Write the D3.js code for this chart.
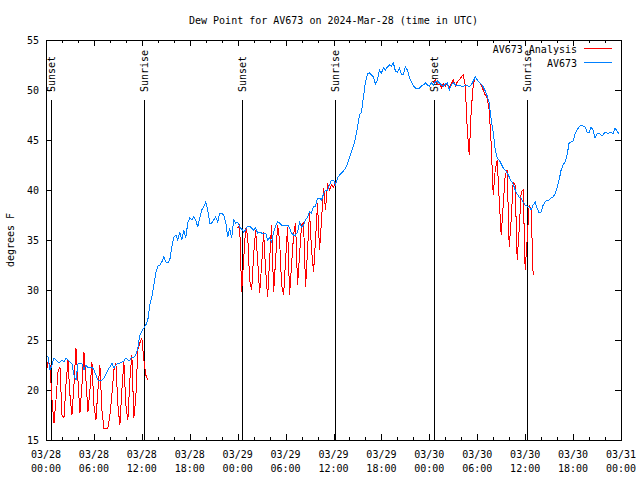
<!DOCTYPE html>
<html>
<head>
<meta charset="utf-8">
<script src="https://cdn.jsdelivr.net/npm/d3@7"></script>
<style>
body { margin: 0; background: #fff; }
svg text { font-family: "DejaVu Sans Mono", monospace; font-size: 10px; fill: #000; }
</style>
</head>
<body>
<div id="chart"></div>
<script>
var width = 640,
    height = 480;

var plotLeft = 46, plotRight = 621, plotTop = 40, plotBottom = 440;

var colors =
  { analysis: "#ff0000",
    obs: "#0080ff",
    frame: "#000000"
  };

var title = "Dew Point for AV673 on 2024-Mar-28 (time in UTC)";
var yLabel = "degrees F";
var seriesNames = ["AV673 Analysis", "AV673"];
var seriesColors = [colors.analysis, colors.obs];

var timeStart = "2024-03-28T00:00",
    timeEnd = "2024-03-31T00:00";
var stepMinutes = 15;

var yTicks = [15, 20, 25, 30, 35, 40, 45, 50, 55];

// observed dew point, every 15 minutes from 03/28 00:00 (one row = one hour)
var av673 = [
  23.5, 23.3, 22.0, 22.5,
  23.2, 23.0, 22.8, 22.8,
  23.0, 22.8, 23.2, 23.0,
  22.8, 22.6, 21.5, 21.0,
  22.6, 22.7, 22.6, 22.0,
  22.5, 22.2, 22.3, 22.3,
  22.0, 21.5, 21.0, 21.0,
  21.0, 21.2, 21.6, 22.0,
  22.3, 22.7, 22.2, 22.5,
  22.7, 22.7, 22.8, 22.9,
  23.2, 23.0, 23.0, 23.3,
  23.3, 23.5, 24.2, 25.5,
  25.9, 26.2, 26.5, 27.0,
  28.5, 29.3, 30.5, 31.7,
  32.4, 32.5, 32.8, 33.3,
  32.8, 32.7, 33.0, 34.3,
  35.3, 35.5, 35.0, 35.8,
  35.0, 36.0, 35.2, 36.7,
  37.2, 37.0, 37.3, 37.0,
  36.3, 37.2, 38.0, 38.3,
  38.8, 38.0, 36.7, 36.7,
  37.0, 37.3, 36.8, 37.7,
  37.7, 37.5, 36.8, 35.3,
  36.2, 35.2, 37.0, 36.7,
  36.8, 36.3, 36.1, 35.8,
  36.0, 36.4, 36.4, 36.2,
  36.0, 36.2, 35.7, 35.8,
  35.7, 35.7, 35.7, 35.0,
  35.2, 34.8, 35.8, 36.4,
  36.8, 36.7, 36.5, 36.5,
  36.5, 36.5, 36.2, 35.7,
  35.5, 35.5, 35.8, 36.8,
  36.3, 36.5, 37.0, 37.3,
  37.8, 37.7, 38.4, 38.4,
  39.2, 39.2, 39.0, 39.6,
  40.0, 40.0, 40.5, 41.0,
  41.0, 40.5, 41.2, 41.5,
  41.7, 41.9, 42.2, 42.6,
  43.2, 43.8, 44.4, 45.2,
  46.2, 47.5, 47.8, 49.3,
  50.8, 51.6, 51.7, 51.5,
  51.3, 50.6, 51.0, 52.0,
  51.7, 52.2, 52.0, 52.3,
  52.5, 52.4, 52.7, 51.9,
  51.8, 52.2, 51.6, 51.6,
  52.3, 52.0, 51.3, 50.8,
  50.4, 50.2, 50.2, 50.2,
  50.4, 50.5, 50.7, 50.5,
  50.4, 50.7, 50.5, 50.8,
  50.9, 50.7, 50.5, 50.4,
  50.6, 50.7, 50.0, 50.5,
  50.7, 50.5, 50.5, 50.5,
  50.4, 50.3, 50.5, 50.5,
  50.3, 50.5, 50.9, 51.3,
  51.0, 50.8, 50.6, 50.3,
  49.9, 49.4, 48.7, 47.0,
  45.8, 44.0, 43.2, 43.0,
  42.6, 42.2, 42.0, 41.7,
  41.3, 40.9, 40.6, 40.0,
  39.6, 39.3, 39.2, 38.8,
  38.5, 38.4, 38.3, 38.0,
  38.5, 38.8, 38.2, 37.7,
  37.8, 38.5, 38.8, 39.0,
  39.0, 39.2, 39.3, 39.6,
  40.2, 41.0, 42.0, 42.5,
  42.8, 43.5, 44.7, 44.8,
  44.9, 45.6, 46.0, 46.3,
  46.5, 46.4, 46.3, 45.8,
  45.7, 46.3, 46.0, 45.2,
  45.6, 45.7, 45.5, 45.5,
  45.8, 45.7, 45.7, 45.8,
  45.6, 46.2, 45.9, 45.6
];

// analysis, only overnight, every 15 minutes from each start time
var analysisStart1 = "2024-03-28T00:00";
var analysis1 = [
  21.5, 22.8, 22.5, 19.0,
  16.7, 19.0, 21.8, 22.3,
  17.5, 17.2, 20.5, 23.0,
  19.5, 17.5, 20.5, 24.2,
  21.0, 17.7, 20.5, 23.8,
  21.0, 17.8, 20.0, 22.8,
  18.5, 17.0, 20.0, 22.5,
  18.0, 16.2, 16.2, 16.2,
  17.5, 19.5, 22.0, 22.7,
  18.5, 16.5, 20.0, 22.8,
  18.5, 17.0, 21.0, 23.5,
  17.2, 19.3, 24.0, 24.7,
  25.2, 23.0, 21.5, 21.0
];

var analysisStart2 = "2024-03-29T00:00";
var analysis2 = [
  36.2, 36.5, 29.8, 33.0,
  36.2, 35.5, 31.0, 30.0,
  33.5, 36.0, 33.0, 29.7,
  32.5, 35.8, 32.0, 29.3,
  33.0, 36.5, 29.8, 33.0,
  36.5, 35.0, 30.5, 29.5,
  33.0, 36.3, 29.5, 32.5,
  35.5, 36.7, 30.5, 33.5,
  36.5, 36.7, 30.3, 34.0,
  37.8, 34.0, 31.8, 35.0,
  38.7, 34.0, 37.0, 40.2,
  38.0, 40.7, 40.0, 40.5,
  40.3, 40.8
];

var analysisStart3 = "2024-03-30T00:30";
var analysis3 = [
  50.7, 51.0, 50.5, 50.6,
  50.2, 50.6, 50.4, 50.7,
  50.2, 50.6, 51.0, 50.4,
  50.8, 51.0, 51.3, 51.5,
  50.5, 46.0, 43.5, 48.0,
  50.5, 51.3, 51.0, 50.8,
  50.5, 50.0, 49.5, 49.2,
  48.0, 44.5, 39.5, 42.0,
  43.0, 39.0, 35.5, 38.5,
  41.5, 42.0, 34.3, 37.0,
  40.8, 40.5, 33.0, 36.0,
  39.8, 40.0, 32.0, 35.0,
  38.5, 38.0, 31.5
];

var sunEvents = [
  { label: "Sunset",  time: "2024-03-28T00:35" },
  { label: "Sunrise", time: "2024-03-28T12:16" },
  { label: "Sunset",  time: "2024-03-29T00:36" },
  { label: "Sunrise", time: "2024-03-29T12:14" },
  { label: "Sunset",  time: "2024-03-30T00:36" },
  { label: "Sunrise", time: "2024-03-30T12:11" }
];

var parse = d3.utcParse("%Y-%m-%dT%H:%M");

var toPoints = function(start, values) {
  var t0 = parse(start);
  return values.map(function(v, i) {
    return { t: d3.utcMinute.offset(t0, i * stepMinutes), v: v };
  });
};

var obsPoints = toPoints(timeStart, av673);
var analysisParts = [
  toPoints(analysisStart1, analysis1),
  toPoints(analysisStart2, analysis2),
  toPoints(analysisStart3, analysis3)
];

var x = d3.scaleUtc()
    .domain([parse(timeStart), parse(timeEnd)])
    .range([plotLeft, plotRight]);

var y = d3.scaleLinear()
    .domain([15, 55])
    .range([plotBottom, plotTop]);

var svg = d3.select("#chart").append("svg")
    .attr("width", width)
    .attr("height", height);

svg.append("rect").attr("width", width).attr("height", height).style("fill", "#fff");

// ticks, inward on all four sides
var majorTimes = x.ticks(d3.utcHour.every(6));
var minorTimes = x.ticks(d3.utcHour.every(2)).filter(function(d) { return d.getUTCHours() % 6 != 0; });

var tickAxis = function(axis, tx, ty) {
  var g = svg.append("g")
      .attr("transform", "translate(" + tx + "," + ty + ")")
      .call(axis);
  g.select(".domain").remove();
  g.selectAll("line").style("stroke", colors.frame).attr("shape-rendering", "crispEdges");
  g.selectAll("text").remove();
  return g;
};

tickAxis(d3.axisBottom(x).tickValues(majorTimes).tickSizeInner(-6).tickSizeOuter(0), 0, plotBottom);
tickAxis(d3.axisBottom(x).tickValues(minorTimes).tickSizeInner(-3).tickSizeOuter(0), 0, plotBottom);
tickAxis(d3.axisTop(x).tickValues(majorTimes).tickSizeInner(-6).tickSizeOuter(0), 0, plotTop);
tickAxis(d3.axisTop(x).tickValues(minorTimes).tickSizeInner(-3).tickSizeOuter(0), 0, plotTop);
tickAxis(d3.axisLeft(y).tickValues(yTicks).tickSizeInner(-6).tickSizeOuter(0), plotLeft, 0);
tickAxis(d3.axisRight(y).tickValues(yTicks).tickSizeInner(-6).tickSizeOuter(0), plotRight, 0);

// tick labels
svg.selectAll("text.ylab")
    .data(yTicks)
  .enter().append("text")
    .attr("class", "ylab")
    .attr("x", plotLeft - 7)
    .attr("y", function(d) { return y(d); })
    .attr("dy", "0.35em")
    .attr("text-anchor", "end")
    .text(function(d) { return d; });

var fmtDay = d3.utcFormat("%m/%d"),
    fmtHour = d3.utcFormat("%H:%M");

var xlab = svg.selectAll("text.xlab")
    .data(majorTimes)
  .enter().append("text")
    .attr("class", "xlab")
    .attr("text-anchor", "middle");
xlab.append("tspan")
    .attr("x", function(d) { return x(d); })
    .attr("y", plotBottom + 18)
    .text(function(d) { return fmtDay(d); });
xlab.append("tspan")
    .attr("x", function(d) { return x(d); })
    .attr("y", plotBottom + 32)
    .text(function(d) { return fmtHour(d); });

// sunrise / sunset markers
var sunX = function(d) { return Math.round(x(parse(d.time))) + 0.5; };
var sun = svg.selectAll("g.sun")
    .data(sunEvents)
  .enter().append("g")
    .attr("class", "sun");
sun.append("line")
    .attr("x1", sunX)
    .attr("x2", sunX)
    .attr("y1", y(49))
    .attr("y2", y(15))
    .style("stroke", colors.frame)
    .attr("shape-rendering", "crispEdges");
sun.append("text")
    .attr("transform", function(d) {
      return "translate(" + sunX(d) + "," + (y(50) + 2) + ") rotate(-90)";
    })
    .attr("dy", "0.35em")
    .text(function(d) { return d.label; });

// data lines
var line = d3.line()
    .x(function(d) { return x(d.t); })
    .y(function(d) { return y(d.v); });

svg.selectAll("path.analysis")
    .data(analysisParts)
  .enter().append("path")
    .attr("class", "analysis")
    .attr("d", line)
    .style("fill", "none")
    .style("stroke", colors.analysis)
    .style("stroke-width", 1)
    .attr("shape-rendering", "crispEdges");

svg.append("path")
    .datum(obsPoints)
    .attr("d", line)
    .style("fill", "none")
    .style("stroke", colors.obs)
    .style("stroke-width", 1)
    .attr("shape-rendering", "crispEdges");

// frame
svg.append("rect")
    .attr("x", plotLeft + 0.5)
    .attr("y", plotTop + 0.5)
    .attr("width", plotRight - plotLeft)
    .attr("height", plotBottom - plotTop)
    .style("fill", "none")
    .style("stroke", colors.frame)
    .attr("shape-rendering", "crispEdges");

// legend
var legendItems = seriesNames.map(function(name, i) {
  return { name: name, color: seriesColors[i], row: i };
});
var legend = svg.selectAll("g.legend")
    .data(legendItems)
  .enter().append("g")
    .attr("class", "legend")
    .attr("transform", function(d) { return "translate(0," + (49 + d.row * 14) + ")"; });
legend.append("text")
    .attr("x", 577)
    .attr("dy", "0.35em")
    .attr("text-anchor", "end")
    .text(function(d) { return d.name; });
legend.append("rect")
    .attr("x", 584)
    .attr("y", -1)
    .attr("width", 28)
    .attr("height", 1)
    .style("fill", function(d) { return d.color; });

// titles
svg.append("text")
    .attr("x", (plotLeft + plotRight) / 2)
    .attr("y", 20)
    .attr("dy", "0.35em")
    .attr("text-anchor", "middle")
    .text(title);

svg.append("text")
    .attr("transform", "translate(10," + ((plotTop + plotBottom) / 2) + ") rotate(-90)")
    .attr("dy", "0.35em")
    .attr("text-anchor", "middle")
    .text(yLabel);
</script>
</body>
</html>
